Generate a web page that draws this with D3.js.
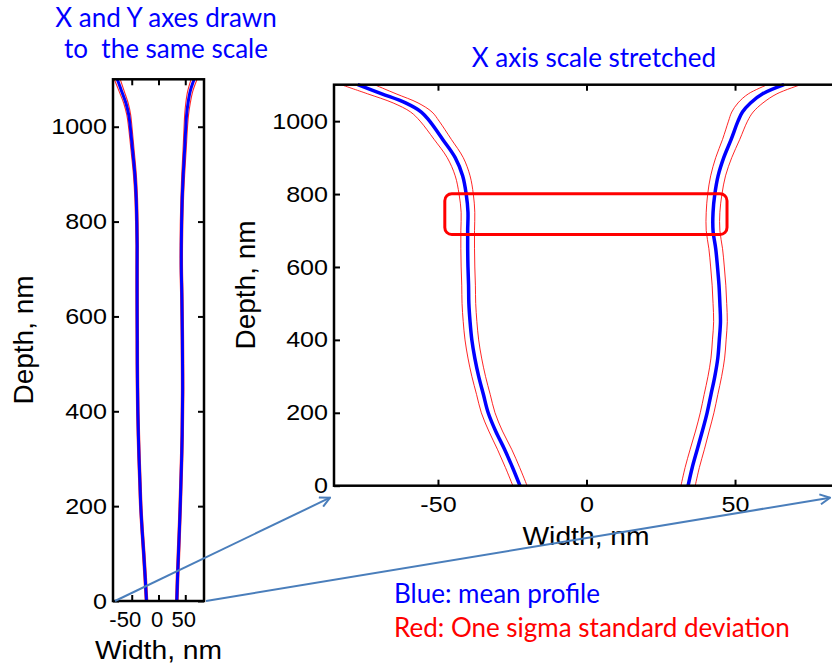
<!DOCTYPE html>
<html>
<head>
<meta charset="utf-8">
<script src="https://cdn.jsdelivr.net/npm/d3@7"></script>
<style>
body { margin: 0; background: #fff; }
svg { display: block; }
text { white-space: pre; }
</style>
</head>
<body>
<svg id="chart" width="832" height="666"></svg>
<script>
// profile, depth in nm, widths in nm
var depth = [0, 50, 100, 150, 200, 250, 300, 350, 400, 450, 500, 550, 600, 650, 700, 750, 800, 850, 900, 950, 1000, 1025, 1050, 1075, 1100];
var leftMean = [-22.4, -24.9, -27.6, -30.6, -33.1, -34.7, -36.3, -37.6, -38.6, -39.2, -39.6, -39.7, -39.9, -40.0, -40.0, -39.9, -40.5, -41.7, -44.2, -48.4, -52.8, -55.6, -60.9, -68.9, -77.0];
var rightMean = [34.2, 35.6, 37.3, 39.0, 40.6, 41.9, 43.2, 44.2, 44.7, 45.1, 44.9, 44.6, 44.1, 43.5, 42.6, 42.6, 43.2, 44.3, 46.2, 48.7, 51.0, 52.5, 55.2, 59.3, 66.5];
var sigma = [2.4, 2.4, 2.4, 2.3, 2.3, 2.3, 2.3, 2.3, 2.3, 2.3, 2.3, 2.3, 2.3, 2.3, 2.3, 2.3, 2.4, 2.5, 2.7, 2.9, 3.2, 3.6, 4.2, 4.8, 5.6];

var depthTicks = [0, 200, 400, 600, 800, 1000];
var widthTicks = [-50, 0, 50];
var depthDomain = [0, 1100];
var widthDomain = [-85, 85];

// highlighted band (width range, depth range)
var boxWidth = [-47.7, 47.3];
var boxDepth = [689, 801];

var blue = "#0000ff", red = "#ff0000", arrowColor = "#4a7ebb";
var tickFont = "'Liberation Sans', Arial, sans-serif";
var noteFont = "Lato, 'Open Sans', sans-serif";
var stretch = 1.14;
var plainNum = function(d){ return String(d); };

var svg = d3.select("#chart");

svg.append("defs").append("marker")
  .attr("id", "arrowhead")
  .attr("viewBox", "0 0 12 12")
  .attr("refX", 11).attr("refY", 6)
  .attr("markerWidth", 12).attr("markerHeight", 12)
  .attr("markerUnits", "userSpaceOnUse")
  .attr("orient", "auto")
  .append("path")
  .attr("d", "M1,1 L11,6 L1,11")
  .attr("fill", "none")
  .attr("stroke", arrowColor)
  .attr("stroke-width", 2);

// panels: left is the "same scale" view, right is the stretched one
var left = {x0: 113, x1: 204, y0: 79.3, y1: 601, blueW: 3, redW: 1.1, xPad: 10, xStretch: 1.0, crowded: true};
var right = {x0: 334, x1: 839, y0: 84.7, y1: 485.7, blueW: 3.5, redW: 1, xPad: 11, xStretch: stretch, crowded: false};

function drawPanel(p) {
  var x = d3.scaleLinear().domain(widthDomain).range([p.x0, p.x1]);
  var y = d3.scaleLinear().domain(depthDomain).range([p.y1, p.y0]);
  var g = svg.append("g");

  var line = function(ws) {
    return d3.line()
      .x(function(d, i){ return x(ws[i]); })
      .y(function(d){ return y(d); })
      .curve(d3.curveCatmullRom.alpha(0.5))(depth);
  };
  var offset = function(ws, s) { return ws.map(function(w, i){ return w + s * sigma[i]; }); };

  [offset(leftMean, -1), offset(leftMean, 1), offset(rightMean, -1), offset(rightMean, 1)].forEach(function(ws){
    g.append("path").attr("d", line(ws))
      .attr("fill", "none").attr("stroke", red).attr("stroke-opacity", 0.85)
      .attr("stroke-width", p.redW);
  });
  [leftMean, rightMean].forEach(function(ws){
    g.append("path").attr("d", line(ws))
      .attr("fill", "none").attr("stroke", blue)
      .attr("stroke-width", p.blueW).attr("stroke-linejoin", "round");
  });

  // axes with inward ticks, MATLAB style
  var yAxis = g.append("g").attr("transform", "translate(" + p.x0 + ",0)")
    .call(d3.axisLeft(y).tickValues(depthTicks).tickFormat(plainNum).tickSizeInner(-6).tickSizeOuter(0).tickPadding(6));
  var xAxis = g.append("g").attr("transform", "translate(0," + p.y1 + ")")
    .call(d3.axisBottom(x).tickValues(widthTicks).tickFormat(plainNum).tickSizeInner(-6).tickSizeOuter(0).tickPadding(p.xPad));
  g.append("g").attr("transform", "translate(0," + p.y0 + ")")
    .call(d3.axisTop(x).tickValues(widthTicks).tickSizeInner(-6).tickSizeOuter(0).tickFormat(""));
  g.append("g").attr("transform", "translate(" + p.x1 + ",0)")
    .call(d3.axisRight(y).tickValues(depthTicks).tickSizeInner(-6).tickSizeOuter(0).tickFormat(""));

  g.selectAll(".domain").remove();
  g.selectAll(".tick line").attr("stroke", "#000").attr("stroke-width", 2);
  [yAxis, xAxis].forEach(function(a){
    a.attr("font-family", tickFont).attr("font-size", 22);
    a.selectAll("text").attr("fill", "#000");
  });
  yAxis.selectAll("text")
    .attr("x", -6 / stretch)
    .attr("transform", "scale(" + stretch + ",1)");
  xAxis.selectAll("text").attr("transform", "scale(" + p.xStretch + ",1)");
  if (p.crowded) {
    // narrow panel: labels nudged apart like the original
    xAxis.selectAll("text").attr("dx", function(d){ return d < 0 ? -7 : -2; });
  }

  g.append("rect")
    .attr("x", p.x0).attr("y", p.y0)
    .attr("width", p.x1 - p.x0).attr("height", p.y1 - p.y0)
    .attr("fill", "none").attr("stroke", "#000").attr("stroke-width", 2.5);

  p.x = x; p.y = y; p.g = g;
  return p;
}

drawPanel(left);
drawPanel(right);

// axis titles
function axisTitle(txt, cx, cy, rotate) {
  svg.append("text")
    .attr("transform", "translate(" + cx + "," + cy + ")" + (rotate ? " rotate(-90)" : " scale(1.13,1)"))
    .attr("text-anchor", "middle")
    .attr("font-family", tickFont)
    .attr("font-size", rotate ? 28 : 25)
    .attr("fill", "#000")
    .text(txt);
}
axisTitle("Depth, nm", 33, 340, true);
axisTitle("Width, nm", d3.mean([left.x0, left.x1]), 659, false);
axisTitle("Depth, nm", 255, 285, true);
axisTitle("Width, nm", 586, 545, false);

// highlighted band in the stretched panel
right.g.append("rect")
  .attr("x", right.x(boxWidth[0])).attr("y", right.y(boxDepth[1]))
  .attr("width", right.x(boxWidth[1]) - right.x(boxWidth[0]))
  .attr("height", right.y(boxDepth[0]) - right.y(boxDepth[1]))
  .attr("rx", 7).attr("ry", 7)
  .attr("fill", "none").attr("stroke", red).attr("stroke-width", 3);

// zoom arrows from the corners of the narrow panel to the wide one
[[widthDomain[0], -4], [widthDomain[1], -9]].forEach(function(a){
  svg.append("line")
    .attr("x1", left.x(a[0]) + 2).attr("y1", left.y(0))
    .attr("x2", right.x(a[0]) + a[1]).attr("y2", right.y(0) + 12)
    .attr("stroke", arrowColor).attr("stroke-width", 2)
    .attr("marker-end", "url(#arrowhead)");
});

// notes
function note(txt, x, y, color, anchor) {
  svg.append("text")
    .attr("x", x).attr("y", y)
    .attr("text-anchor", anchor)
    .attr("font-family", noteFont)
    .attr("font-size", 26)
    .attr("fill", color)
    .text(txt);
}
note("X and Y axes drawn", 166, 27, blue, "middle");
note("to  the same scale", 166, 58, blue, "middle");
note("X axis scale stretched", 594, 67, blue, "middle");
note("Blue: mean profile", 394, 603, blue, "start");
note("Red: One sigma standard deviation", 394, 637, red, "start");
</script>
</body>
</html>
